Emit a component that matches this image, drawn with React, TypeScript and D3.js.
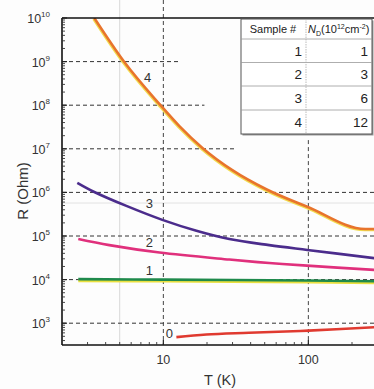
import React from "react";
import * as d3 from "d3";

// ---- data (T in K, log10 R in Ohm) ----
const curve4: [number, number][] = [[3.34, 10], [5.38, 8.99], [9.38, 8.03], [12.9, 7.52], [18.6, 7.02], [29.9, 6.51], [52.1, 6.06], [98.4, 5.67], [247, 5.16], [290, 5.16]];
const curve3: [number, number][] = [[2.55, 6.22], [3.34, 6.01], [5.56, 5.69], [9.84, 5.37], [16.9, 5.12], [28.5, 4.93], [53.7, 4.79], [98.4, 4.68], [290, 4.49]];
const curve2: [number, number][] = [[2.59, 4.93], [4.24, 4.79], [9.4, 4.62], [28.5, 4.46], [53.7, 4.38], [98, 4.32], [290, 4.22]];
const curve1: [number, number][] = [[2.59, 4.01], [10, 4.0], [100, 3.98], [290, 3.96]];
const curve0: [number, number][] = [[12.3, 2.68], [19.8, 2.74], [39, 2.78], [100, 2.83], [290, 2.91]];

const seriesNames = ["4", "3", "2", "1", "0"];
const seriesColors = ["#e8742c", "#4b2c8c", "#e0307c", "#1f8a4c", "#e03a30"];
const seriesData = [curve4, curve3, curve2, curve1, curve0];
// label anchor positions (T, log10R)
const labelPos: [number, number][] = [[7.8, 8.65], [8.0, 5.76], [8.0, 4.86], [8.0, 4.22], [11.0, 2.78]];

const yDecades = [3, 4, 5, 6, 7, 8, 9, 10];
const gridEnds = [400, 400, 400, 400, 30.9, 19.2, 12.9]; // for decades 3..9 (T at which dash ends)
const xMajor = [10, 100];

const tableHeader = ["Sample #", "N_D(10^12cm^-2)"];
const sampleNo = [1, 2, 3, 4];
const ndValues = [1, 3, 6, 12];

const W = 374, H = 389;
const L = 62, T0 = 18, B = 345;

export default function App() {
  const x = d3.scaleLog().domain([2, 300]).range([L, L + 145 * Math.log10(150)]);
  const y = d3.scaleLinear().domain([2.5, 10]).range([B, T0]);
  const smooth = d3.line<[number, number]>().x(d => x(d[0])).y(d => y(d[1])).curve(d3.curveCatmullRom.alpha(0.5));
  const mono = d3.line<[number, number]>().x(d => x(d[0])).y(d => y(d[1])).curve(d3.curveMonotoneX);
  const lineFor = (i: number) => (i === 0 ? mono : smooth);

  const font = "Arial, 'Liberation Sans', Helvetica, sans-serif";
  const minorY: number[] = [];
  for (let d = 2; d < 10; d++) for (let k = 2; k <= 9; k++) { const v = d + Math.log10(k); if (v > 2.5 && v < 10) minorY.push(v); }
  const minorX: number[] = [];
  for (const base of [1, 10, 100]) for (let k = 2; k <= 9; k++) { const v = base * k; if (v > 2 && v < 300) minorX.push(v); }

  const tx = 241, tw = 131, ty = 19;
  const rowYs = [19, 39, 62.5, 86, 110, 134];
  const colX = 306;

  return (
    <svg width={W} height={H} style={{ position: "absolute", left: 0, top: 0, background: "#fdfdfd" }} fontFamily={font}>
      <rect width={W} height={H} fill="#fdfdfd" />
      <clipPath id="plot"><rect x={L} y={T0} width={W - L} height={B - T0} /></clipPath>
      {/* faint scan lines */}
      <line x1={x(5)} x2={x(5)} y1={0} y2={B} stroke="#d8d8d8" strokeWidth={1} />
      <line x1={L} x2={W} y1={203} y2={203} stroke="#e2e2e2" strokeWidth={1} />
      {/* horizontal dashed grid */}
      {yDecades.filter(d => d < 10).map((d, i) => (
        <line key={"g" + d} x1={L} x2={Math.min(x(gridEnds[i]), W)} y1={y(d)} y2={y(d)} stroke="#333" strokeWidth={1} strokeDasharray="4,3" />
      ))}
      {/* vertical dashed grid */}
      <line x1={x(10)} x2={x(10)} y1={0} y2={B} stroke="#444" strokeWidth={1} strokeDasharray="4,3" />
      <line x1={x(100)} x2={x(100)} y1={y(7.2)} y2={B} stroke="#444" strokeWidth={1} strokeDasharray="4,3" />

      {/* curves */}
      <g clipPath="url(#plot)">
        <path d={mono(curve4) || ""} fill="none" stroke="#f2dc50" strokeWidth={2.6} transform="translate(-0.8,1)" />
        <path d={smooth(curve1) || ""} fill="none" stroke="#eae040" strokeWidth={3} transform="translate(0,1.5)" />
        {seriesData.map((s, i) => (
          <path key={"s" + i} d={lineFor(i)(s) || ""} fill="none" stroke={seriesColors[i]} strokeWidth={2.6} />
        ))}
      </g>
      {seriesNames.map((n, i) => (
        <text key={"l" + i} x={x(labelPos[i][0])} y={y(labelPos[i][1]) + 5} fontSize={13} fill="#333" textAnchor="middle">{n}</text>
      ))}

      {/* axes frame */}
      <line x1={L} x2={W} y1={T0} y2={T0} stroke="#111" strokeWidth={1.6} />
      <line x1={L} x2={L} y1={T0} y2={B} stroke="#111" strokeWidth={1.6} />
      <line x1={L} x2={W} y1={B} y2={B} stroke="#111" strokeWidth={1.6} />
      {/* y ticks */}
      {yDecades.map(d => <line key={"yt" + d} x1={L} x2={L + 5} y1={y(d)} y2={y(d)} stroke="#222" strokeWidth={1.2} />)}
      {minorY.map((v, i) => <line key={"ym" + i} x1={L} x2={L + 3} y1={y(v)} y2={y(v)} stroke="#333" strokeWidth={0.9} />)}
      {/* x ticks */}
      {xMajor.map(v => <line key={"xt" + v} x1={x(v)} x2={x(v)} y1={B} y2={B - 5} stroke="#222" strokeWidth={1.2} />)}
      {minorX.map((v, i) => <line key={"xm" + i} x1={x(v)} x2={x(v)} y1={B} y2={B - 3} stroke="#333" strokeWidth={0.9} />)}

      {/* y tick labels */}
      {yDecades.map(d => (
        <text key={"yl" + d} x={L - 12} y={y(d) + 5} fontSize={12.5} fill="#333" textAnchor="end">
          10<tspan dy={-6} fontSize={8}>{d}</tspan>
        </text>
      ))}
      {xMajor.map(v => (
        <text key={"xl" + v} x={x(v)} y={364} fontSize={12.5} fill="#333" textAnchor="middle">{v}</text>
      ))}
      <text x={220} y={385} fontSize={14.5} fill="#333" textAnchor="middle">T (K)</text>
      <text transform="translate(28,191) rotate(-90)" fontSize={15} fill="#333" textAnchor="middle">R (Ohm)</text>

      {/* table */}
      <rect x={tx + 1.5} y={ty + 1.5} width={tw} height={rowYs[5] - ty} fill="#999" />
      <rect x={tx} y={ty} width={tw} height={rowYs[5] - ty} fill="#fff" stroke="#555" strokeWidth={1} />
      {rowYs.slice(1, 5).map((ry, i) => <line key={"tr" + i} x1={tx} x2={tx + tw} y1={ry} y2={ry} stroke="#999" strokeWidth={0.8} />)}
      <line x1={colX} x2={colX} y1={ty} y2={rowYs[5]} stroke="#aaa" strokeWidth={0.8} strokeDasharray="1.5,1" />
      <text x={273} y={33} fontSize={11} fill="#222" textAnchor="middle">{tableHeader[0]}</text>
      <text x={308} y={33} fontSize={11} fill="#222">
        <tspan fontStyle="italic">N</tspan><tspan dy={3} fontSize={7}>D</tspan><tspan dy={-3}>(10</tspan><tspan dy={-4} fontSize={7}>12</tspan><tspan dy={4}>cm</tspan><tspan dy={-4} fontSize={7}>-2</tspan><tspan dy={4}>)</tspan>
      </text>
      {sampleNo.map((s, i) => (
        <text key={"sn" + i} x={302} y={(rowYs[i + 1] + rowYs[i + 2]) / 2 + 5} fontSize={13.5} fill="#222" textAnchor="end">{s}</text>
      ))}
      {ndValues.map((s, i) => (
        <text key={"nd" + i} x={368} y={(rowYs[i + 1] + rowYs[i + 2]) / 2 + 5} fontSize={13.5} fill="#222" textAnchor="end">{s}</text>
      ))}
    </svg>
  );
}
